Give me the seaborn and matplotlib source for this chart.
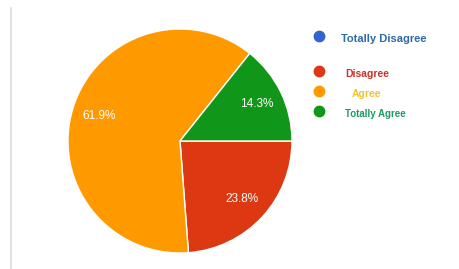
import numpy as np
import matplotlib
matplotlib.use("Agg")
import matplotlib.pyplot as plt
import seaborn as sns
from matplotlib.lines import Line2D

categories = ["Totally Disagree", "Disagree", "Agree", "Totally Agree"]
shares = [0.0, 23.8, 61.9, 14.3]
slice_colors = ["#3366cc", "#dc3912", "#ff9900", "#109618"]
label_colors = ["#2f6aa8", "#c8322a", "#f2c230", "#1f9a62"]

sns.set_style("white")
plt.rcParams["font.family"] = ["Liberation Sans", "DejaVu Sans"]

fig = plt.figure(figsize=(4.59, 2.69), dpi=100)
fig.patch.set_facecolor("white")

# pie area, placed in pixel terms
W, H = 459, 269
ax = fig.add_axes([68 / W, (269 - 253) / H, 224 / W, 224 / H])

def fmt(p):
    return f"{p:.1f}%" if p > 0 else ""

wedges, texts, autotexts = ax.pie(
    shares,
    colors=slice_colors,
    startangle=0,
    counterclock=False,
    autopct=fmt,
    pctdistance=0.76,
    wedgeprops=dict(edgecolor="white", linewidth=1),
    textprops=dict(color="white", fontsize=8.5),
)
ax.set_xlim(-1.0, 1.0)
ax.set_ylim(-1.0, 1.0)
ax.set_aspect("equal")

# legend drawn by hand (uneven spacing in the original)
leg_y = [36, 71, 91, 111]
leg_tx = [341, 345, 352, 345]
leg_size = [8.0, 7.5, 7.5, 7.0]
for name, c, tc, y, tx, fs in zip(categories, slice_colors, label_colors,
                                  leg_y, leg_tx, leg_size):
    fig.add_artist(Line2D([319 / W], [1 - y / H], marker="o", markersize=7.5,
                          color=c, linestyle="none", transform=fig.transFigure))
    fig.text(tx / W, 1 - (y + 3) / H, name, color=tc, fontsize=fs,
             fontweight="bold", ha="left", va="center")

# thin grey frame line on the left
fig.add_artist(Line2D([11 / W, 11 / W], [0, 1 - 8 / H], color="#e2e2e2",
                      linewidth=1.5, transform=fig.transFigure))

fig.savefig("out.png", dpi=100, facecolor="white")
